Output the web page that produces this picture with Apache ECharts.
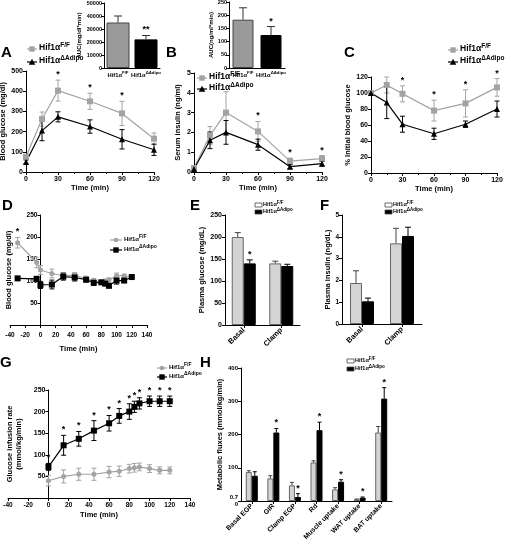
<!DOCTYPE html>
<html><head><meta charset="utf-8">
<script src="https://cdn.jsdelivr.net/npm/echarts@6/dist/echarts.min.js"></script>
<style>html,body{margin:0;padding:0;background:#fff}#c{width:505px;height:544px}</style>
</head><body><div id="c"></div>
<script>
// ---------------- DATA ----------------
const groupNames = ['Hif1α F/F', 'Hif1α ΔAdipo'];
// A: glucose tolerance
const timeMin = [0, 15, 30, 60, 90, 120];
const aGluFF = [75, 262, 403, 350, 290, 165];
const aGluFFErr = [10, 35, 52, 40, 60, 28];
const aGluKO = [50, 205, 273, 225, 162, 110];
const aGluKOErr = [10, 50, 25, 33, 48, 28];
const aStarIdx = [2, 3, 4];
const aucGlu = [35000, 22000];
const aucGluErr = [5000, 3000];
// B: serum insulin
const bInsFF = [0.2, 1.85, 3.0, 2.05, 0.55, 0.68];
const bInsFFErr = [0.05, 0.45, 1.05, 0.5, 0.15, 0.15];
const bInsKO = [0.15, 1.6, 2.0, 1.38, 0.27, 0.42];
const bInsKOErr = [0.05, 0.42, 0.6, 0.28, 0.1, 0.12];
const bStarIdx = [3, 4, 5];
const aucIns = [183, 125];
const aucInsErr = [45, 32];
// C: insulin tolerance (% initial)
const cFF = [100, 110, 99, 78, 87, 107];
const cFFErr = [0, 10, 10, 13, 17, 11];
const cKO = [100, 88, 61, 49, 61, 80];
const cKOErr = [0, 20, 10, 7, 4, 10];
const cStarIdx = [2, 3, 4, 5];
// D: clamp blood glucose
const clampTimeD = [-30, -5, 0, 15, 30, 45, 60, 70, 80, 85, 90, 100, 110, 120];
const dFF = [187, 142, 125, 117, 112, 113, 105, 100, 98, 100, 102, 112, 112, 109];
const dFFErr = [12, 12, 10, 10, 6, 6, 6, 6, 3, 4, 5, 6, 3, 3];
const dKO = [106, 105, 91, 92, 110, 108, 103, 96, 97, 94, 89, 101, 101, 109];
const dKOErr = [4, 5, 8, 10, 8, 8, 5, 6, 4, 3, 3, 8, 3, 2];
const dStarIdx = [0];
// E / F: plasma glucose, insulin
const phaseCats = ['Basal', 'Clamp'];
const eGluFF = [200, 140];
const eGluFFErr = [10, 5];
const eGluKO = [140, 134];
const eGluKOErr = [8, 4];
const eStarIdx = [0];
const fInsFF = [1.88, 3.7];
const fInsFFErr = [0.56, 0.69];
const fInsKO = [1.04, 4.04];
const fInsKOErr = [0.15, 0.4];
// G: glucose infusion rate
const clampTimeG = [0, 15, 30, 45, 60, 70, 80, 85, 90, 100, 110, 120];
const gFF = [40, 50, 55, 55, 60, 62, 68, 70, 72, 68, 64, 64];
const gFFErr = [12, 15, 14, 14, 13, 12, 10, 10, 9, 9, 8, 8];
const gKO = [72, 122, 137, 156, 173, 190, 200, 211, 219, 224, 224, 224];
const gKOErr = [8, 23, 17, 23, 18, 17, 18, 13, 13, 12, 12, 12];
const gStarIdx = [0, 1, 2, 3, 4, 5, 6, 7, 8, 9, 10, 11];
// H: metabolic fluxes
const fluxCats = ['Basal EGP', 'GIR', 'Clamp EGP', 'Rd', 'Muscle uptake', 'WAT uptake', 'BAT uptake'];
const fluxFF = [87, 68, 47, 116, 35, 5, 206];
const fluxFFErr = [4, 8, 9, 5, 5, 1, 18];
const fluxKO = [76, 206, 12, 213, 58, 10, 308];
const fluxKOErr = [12, 12, 10, 24, 6, 2, 33];
const fluxStarIdx = [1, 2, 3, 4, 5, 6];

// ---------------- STYLE ----------------
const FONT = "'Liberation Sans', Arial, Helvetica, sans-serif";
const GRAY = '#a3a3a3';
const LIGHT = '#d4d4d4';
const BLACK = '#000000';

function isObj(o){return o && typeof o==='object' && !Array.isArray(o);}
function merge(a,b){const r=Array.isArray(a)?a.slice():Object.assign({},a);for(const k in b){r[k]=(isObj(b[k])&&isObj(a[k]))?merge(a[k],b[k]):b[k];}return r;}

function richName(label){const i=label.indexOf(' ');return '{b|'+label.slice(0,i)+'}{s|'+label.slice(i+1)+'}';}
function richStyles(fs,ss){return {
  b:{fontSize:fs,fontWeight:'bold',fontFamily:FONT,color:'#000',fill:'#000',verticalAlign:'bottom'},
  s:{fontSize:ss,fontWeight:'bold',fontFamily:FONT,color:'#000',fill:'#000',verticalAlign:'top',padding:[0,0,Math.round(fs*0.45),0]}
};}

const grids = [
  {left:26, top:71, width:128, height:101},   // 0 A
  {left:104, top:3, width:56, height:65},     // 1 A inset
  {left:194, top:73, width:128, height:99},   // 2 B
  {left:229, top:2, width:56, height:66},     // 3 B inset
  {left:371, top:77, width:126, height:96},   // 4 C
  {left:10, top:215, width:137, height:110},  // 5 D
  {left:225, top:215, width:75, height:110},  // 6 E
  {left:342, top:215, width:80, height:109},  // 7 F
  {left:8, top:390, width:182, height:108},   // 8 G
  {left:241, top:368, width:151, height:133}  // 9 H
].map(g=>Object.assign({outerBoundsMode:'none', containLabel:false}, g));

// y-axis of D and G sits at time 0: shift it inward by the width of the -40..0 span
const dZeroShift = -grids[5].width * 40 / 180;
const gZeroShift = -grids[8].width * 40 / 180;

const axisBase = {
  axisLine:{show:true,onZero:false,lineStyle:{color:'#000',width:1}},
  axisTick:{show:true,length:3,lineStyle:{color:'#000',width:1}},
  axisLabel:{color:'#000',fontSize:7,fontWeight:'bold',fontFamily:FONT,margin:3},
  splitLine:{show:false},
  nameLocation:'middle',
  nameTextStyle:{color:'#000',fontSize:7.5,fontWeight:'bold',fontFamily:FONT}
};
function ax(gi,o){return merge(merge(axisBase,{gridIndex:gi}),o);}
const timeAxis = gi => ax(gi,{type:'value',min:0,max:120,interval:30,name:'Time (min)',nameGap:12,
  minorTick:{show:true,splitNumber:2,length:2,lineStyle:{color:'#000'}}, axisLabel:{margin:4}});
const clampAxis = (gi,gap,margin) => ax(gi,{type:'value',min:-40,max:140,interval:20,name:'Time (min)',nameGap:gap,
  axisLabel:{fontSize:6.5,margin:margin}});
const insetCatAxis = gi => ax(gi,{type:'category',data:groupNames,axisTick:{show:false},
  axisLabel:{interval:0,margin:3,formatter:v=>richName(v),rich:richStyles(5.8,4.3)}});
const phaseAxis = (gi,fs) => ax(gi,{type:'category',data:gi===9?fluxCats:phaseCats,axisTick:{show:true,alignWithLabel:true},
  axisLabel:{interval:0,rotate:45,fontSize:fs,margin:4}});

const xAxes = [
  timeAxis(0), insetCatAxis(1), timeAxis(2), insetCatAxis(3), timeAxis(4),
  clampAxis(5,20,7), phaseAxis(6,7.5), phaseAxis(7,7.5), clampAxis(8,13,4), phaseAxis(9,6.8)
];
const plain = v => String(v);
const yAxes = [
  ax(0,{type:'value',min:0,max:500,interval:100,name:'Blood glucose (mg/dl)',nameGap:17}),
  ax(1,{type:'value',min:0,max:50000,interval:10000,name:'AUC(mg/dl*min)',nameGap:18,axisLabel:{fontSize:5.5,margin:2,formatter:plain},nameTextStyle:{fontSize:6}}),
  ax(2,{type:'value',min:0,max:5,interval:1,name:'Serum insulin (ng/ml)',nameGap:12}),
  ax(3,{type:'value',min:0,max:250,interval:50,name:'AUC(ng/ml*min)',nameGap:15,axisLabel:{fontSize:5.5,margin:2},nameTextStyle:{fontSize:6}}),
  ax(4,{type:'value',min:0,max:120,interval:20,name:'% Initial blood glucose',nameGap:17}),
  ax(5,{type:'value',min:0,max:250,interval:50,name:'Blood glucose (mg/dl)',nameGap:28,offset:dZeroShift,axisLabel:{fontSize:6.5,showMinLabel:false}}),
  ax(6,{type:'value',min:0,max:250,interval:50,name:'Plasma glucose (mg/dL)',nameGap:16}),
  ax(7,{type:'value',min:0,max:5,interval:1,name:'Plasma insulin (ng/dL)',nameGap:8,axisLabel:{fontSize:6.5}}),
  ax(8,{type:'value',min:0,max:250,interval:50,name:'Glucose infusion rate\n(mmol/kg/min)',nameGap:25,offset:gZeroShift,axisLabel:{fontSize:7,showMinLabel:false},nameTextStyle:{lineHeight:9}}),
  ax(9,{type:'value',min:0,max:400,interval:100,name:'Metabolic fluxes (mmol/kg/min)',nameGap:16,
    axisLabel:{fontSize:6,lineHeight:7,formatter:v=>v===0?'0.7\n0':String(v)}})
];

// ---------------- SERIES HELPERS ----------------
function lineS(gi,xs,ys,color,symbol,size){
  return {type:'line',xAxisIndex:gi,yAxisIndex:gi,data:xs.map((x,i)=>[x,ys[i]]),symbol:symbol,symbolSize:size,
    lineStyle:{color:color,width:1.2},itemStyle:{color:color},z:4,silent:true,animation:false};
}
function errS(gi,xs,ys,es,color,cap,upperOnly,off){
  return {type:'custom',xAxisIndex:gi,yAxisIndex:gi,silent:true,animation:false,z:3,
    data:xs.map((x,i)=>[x,ys[i],es[i]]),encode:{x:0,y:1},
    renderItem:function(p,api){
      const x=api.value(0),v=api.value(1),e=api.value(2);
      if(!e) return null;
      const t=api.coord([x,v+e]), b=api.coord([x,upperOnly?v:v-e]);
      const cx=t[0]+(off||0);
      const st={stroke:color,lineWidth:1};
      const ch=[{type:'line',shape:{x1:cx,y1:t[1],x2:cx,y2:b[1]},style:st},
                {type:'line',shape:{x1:cx-cap,y1:t[1],x2:cx+cap,y2:t[1]},style:st}];
      if(!upperOnly) ch.push({type:'line',shape:{x1:cx-cap,y1:b[1],x2:cx+cap,y2:b[1]},style:st});
      return {type:'group',children:ch};
    }};
}
function starS(gi,xs,ys,es,idx,off,txt){
  return {type:'custom',xAxisIndex:gi,yAxisIndex:gi,silent:true,animation:false,z:5,
    data:idx.map(i=>[xs[i],ys[i]+es[i]]),encode:{x:0,y:1},
    renderItem:function(p,api){
      const c=api.coord([api.value(0),api.value(1)]);
      return {type:'text',x:c[0]+(off||0),y:c[1]-1,style:{text:txt||'*',fontSize:9,fontWeight:'bold',fontFamily:FONT,fill:'#000',align:'center',verticalAlign:'bottom'}};
    }};
}
function barS(gi,vals,color,border,w){
  return {type:'bar',xAxisIndex:gi,yAxisIndex:gi,data:vals,barWidth:w,barGap:'0%',silent:true,animation:false,z:2,
    itemStyle:{color:color,borderColor:border,borderWidth:1}};
}
function insetBarS(gi,vals,w){
  return {type:'bar',xAxisIndex:gi,yAxisIndex:gi,barWidth:w,silent:true,animation:false,z:2,
    data:[{value:vals[0],itemStyle:{color:'#9a9a9a',borderColor:'#444',borderWidth:1}},
          {value:vals[1],itemStyle:{color:'#000',borderColor:'#000',borderWidth:1}}]};
}
const idx2 = [0,1];
const idx7 = fluxCats.map((c,i)=>i);

const series = [
  // A
  errS(0,timeMin,aGluFF,aGluFFErr,GRAY,2.5,false), errS(0,timeMin,aGluKO,aGluKOErr,BLACK,2.5,false),
  lineS(0,timeMin,aGluFF,GRAY,'rect',6), lineS(0,timeMin,aGluKO,BLACK,'triangle',6),
  starS(0,timeMin,aGluFF,aGluFFErr,aStarIdx,0),
  // A inset
  insetBarS(1,aucGlu,23), errS(1,idx2,aucGlu,aucGluErr,'#333',4,true),
  starS(1,idx2,aucGlu,aucGluErr,[1],0,'**'),
  // B
  errS(2,timeMin,bInsFF,bInsFFErr,GRAY,2.5,false), errS(2,timeMin,bInsKO,bInsKOErr,BLACK,2.5,false),
  lineS(2,timeMin,bInsFF,GRAY,'rect',6), lineS(2,timeMin,bInsKO,BLACK,'triangle',6),
  starS(2,timeMin,bInsFF,bInsFFErr,bStarIdx,0),
  // B inset
  insetBarS(3,aucIns,21), errS(3,idx2,aucIns,aucInsErr,'#333',4,true),
  starS(3,idx2,aucIns,aucInsErr,[1],0),
  // C
  errS(4,timeMin,cFF,cFFErr,GRAY,2.5,false), errS(4,timeMin,cKO,cKOErr,BLACK,2.5,false),
  lineS(4,timeMin,cFF,GRAY,'rect',6), lineS(4,timeMin,cKO,BLACK,'triangle',6),
  starS(4,timeMin,cFF,cFFErr,cStarIdx,0),
  // D
  errS(5,clampTimeD,dFF,dFFErr,GRAY,2.5,false), errS(5,clampTimeD,dKO,dKOErr,BLACK,2.5,false),
  lineS(5,clampTimeD,dFF,GRAY,'circle',5), lineS(5,clampTimeD,dKO,BLACK,'rect',6),
  starS(5,clampTimeD,dFF,dFFErr,dStarIdx,0),
  // E
  barS(6,eGluFF,LIGHT,'#666',12), barS(6,eGluKO,BLACK,BLACK,12),
  errS(6,idx2,eGluFF,eGluFFErr,'#444',3,true,-6), errS(6,idx2,eGluKO,eGluKOErr,BLACK,3,true,6),
  starS(6,idx2,eGluKO,eGluKOErr,eStarIdx,6),
  // F
  barS(7,fInsFF,LIGHT,'#666',12), barS(7,fInsKO,BLACK,BLACK,12),
  errS(7,idx2,fInsFF,fInsFFErr,'#444',3,true,-6), errS(7,idx2,fInsKO,fInsKOErr,BLACK,3,true,6),
  // G
  errS(8,clampTimeG,gFF,gFFErr,GRAY,2.5,false), errS(8,clampTimeG,gKO,gKOErr,BLACK,2.5,false),
  lineS(8,clampTimeG,gFF,GRAY,'circle',5), lineS(8,clampTimeG,gKO,BLACK,'rect',6),
  starS(8,clampTimeG,gKO,gKOErr,gStarIdx,0),
  // H
  barS(9,fluxFF,LIGHT,'#666',6), barS(9,fluxKO,BLACK,BLACK,6),
  errS(9,idx7,fluxFF,fluxFFErr,'#444',2,true,-3), errS(9,idx7,fluxKO,fluxKOErr,BLACK,2,true,3),
  starS(9,idx7,fluxKO,fluxKOErr,fluxStarIdx,3)
];

// ---------------- LEGENDS & LETTERS ----------------
function lineLegend(x,y,color,sym,label,fs,ss,len){
  const cx=x+len/2, r=2.7;
  const ch=[{type:'line',shape:{x1:x,y1:y,x2:x+len,y2:y},style:{stroke:color,lineWidth:1.2}}];
  if(sym==='rect') ch.push({type:'rect',shape:{x:cx-r,y:y-r,width:2*r,height:2*r},style:{fill:color}});
  else if(sym==='triangle') ch.push({type:'polygon',shape:{points:[[cx,y-r-0.6],[cx-r-0.6,y+r],[cx+r+0.6,y+r]]},style:{fill:color}});
  else ch.push({type:'circle',shape:{cx:cx,cy:y,r:2.3},style:{fill:color}});
  ch.push({type:'text',x:x+len+2,y:y-2,style:{text:richName(label),rich:richStyles(fs,ss),verticalAlign:'middle',align:'left'}});
  return {type:'group',children:ch,silent:true};
}
function boxLegend(x,y,fill,label){
  return {type:'group',silent:true,children:[
    {type:'rect',shape:{x:x,y:y-2,width:7,height:4},style:{fill:fill,stroke:'#444',lineWidth:0.8}},
    {type:'text',x:x+8,y:y-1.5,style:{text:richName(label),rich:richStyles(5.5,4.5),verticalAlign:'middle',align:'left'}}
  ]};
}
function letter(t,x,y){return {type:'text',x:x,y:y,silent:true,style:{text:t,fontSize:15,fontWeight:'bold',fontFamily:FONT,fill:'#000'}};}

const graphic = [
  letter('A',1,45), letter('B',166,45), letter('C',344,45), letter('D',2,198),
  letter('E',190,198), letter('F',320,198), letter('G',0,355), letter('H',200,355),
  lineLegend(27,49,GRAY,'rect',groupNames[0],8.5,6.5,10), lineLegend(27,62,BLACK,'triangle',groupNames[1],8.5,6.5,10),
  lineLegend(197,78,GRAY,'rect',groupNames[0],8.5,6.5,10), lineLegend(197,89,BLACK,'triangle',groupNames[1],8.5,6.5,10),
  lineLegend(448,50,GRAY,'rect',groupNames[0],8.5,6.5,10), lineLegend(448,62,BLACK,'triangle',groupNames[1],8.5,6.5,10),
  lineLegend(110,240,GRAY,'circle',groupNames[0],6,5,12), lineLegend(110,250,BLACK,'rect',groupNames[1],6,5,12),
  lineLegend(157,368,GRAY,'circle',groupNames[0],6,5,10), lineLegend(157,377,BLACK,'rect',groupNames[1],6,5,10),
  boxLegend(255,205,'#ffffff',groupNames[0]), boxLegend(255,212,BLACK,groupNames[1]),
  boxLegend(385,205,'#ffffff',groupNames[0]), boxLegend(385,212,BLACK,groupNames[1]),
  boxLegend(347,361,'#ffffff',groupNames[0]), boxLegend(347,369,BLACK,groupNames[1])
];

const chart = echarts.init(document.getElementById('c'), null, {renderer:'canvas'});
chart.setOption({
  animation:false,
  backgroundColor:'#ffffff',
  textStyle:{fontFamily:FONT},
  grid:grids, xAxis:xAxes, yAxis:yAxes, series:series, graphic:graphic
});
</script></body></html>
